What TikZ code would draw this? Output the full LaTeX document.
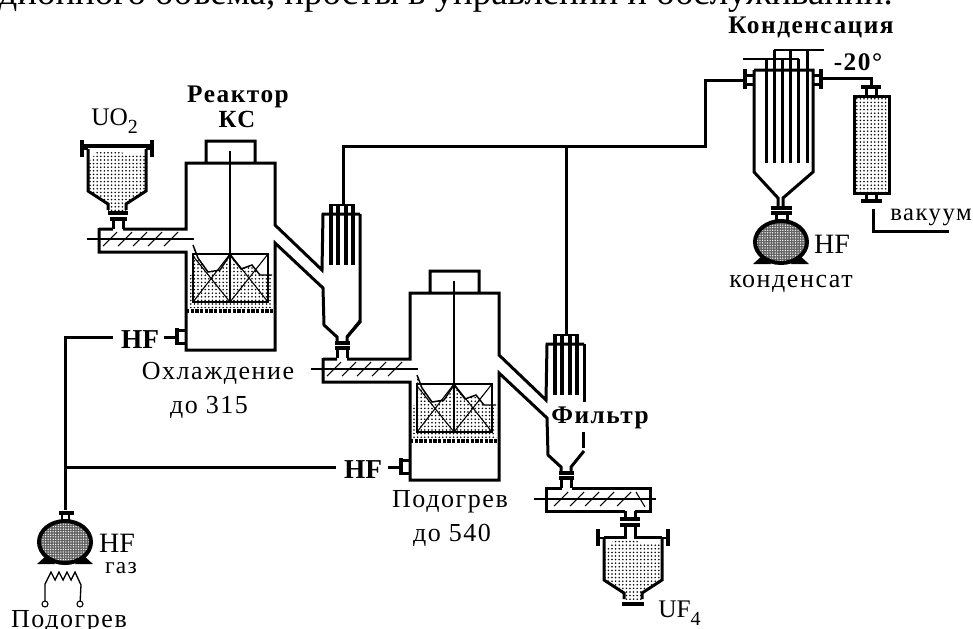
\documentclass[tikz,border=0pt]{standalone}
\usepackage{fontspec}
\setmainfont{Liberation Serif}
\usetikzlibrary{patterns,patterns.meta}
\newcommand{\lbl}[1]{\fontsize{#1}{#1}\selectfont\addfontfeature{LetterSpace=6}}
\newcommand{\tight}[1]{\fontsize{#1}{#1}\selectfont}
\newcommand{\lowidx}[1]{{\fontsize{15}{15}\selectfont\raisebox{-6.5pt}{#1}}}
\tikzset{
  x=0.75pt,y=-0.75pt,
  thick line/.style={draw=black,line width=2.25pt,line join=miter,line cap=butt},
  mid line/.style={draw=black,line width=1.5pt},
  thin line/.style={draw=black,line width=0.8pt},
  powder/.style={pattern={Dots[distance=2.7pt,radius=0.66pt]},pattern color=black},
  lab/.style={inner sep=0pt,font=\lbl{19.5}},
  blab/.style={inner sep=0pt,font=\lbl{19}\bfseries},
  plain/.style={inner sep=0pt,font=\tight{21}},
  bplain/.style={inner sep=0pt,font=\tight{20.5}\bfseries},
  % hopper, origin at centre of its top bar
  hopper/.pic={
    \path[powder] (-29,17) -- (-20,6) -- (-10,4) -- (0,5) -- (10,8) -- (28,9) -- (28,45) -- (9,58) -- (9,65) -- (-9,65) -- (-9,58) -- (-29,45) -- cycle;
    \draw[thick line] (-29,3) -- (-29,45) -- (-9,58) -- (-9,64);
    \draw[thick line] (29,3) -- (29,45) -- (9,58) -- (9,64);
    \draw[line width=3pt] (-35,-6) -- (-35,11);
    \draw[line width=3pt] (35,-6) -- (35,11);
    \draw[mid line] (-29,3) -- (-35,3);
    \draw[mid line] (29,3) -- (35,3);
  },
  % storage vessel, origin at its centre
  vessel/.pic={
    \fill[black!62] (0,0) ellipse[x radius=26,y radius=21];
    \path[pattern={Dots[distance=1.9pt,radius=0.55pt]},pattern color=white] (0,0) ellipse[x radius=26,y radius=21];
    \draw[line width=3pt] (0,0) ellipse[x radius=26,y radius=21];
    \fill (-28,22) -- (-18,13) -- (-10,22) -- cycle;
    \fill (28,22) -- (18,13) -- (10,22) -- cycle;
  },
  % reactor + screw feeder + filter, origin at reactor's top left corner
  unit/.pic={
    \path[powder] (7,82) -- (12,95) -- (22,109) -- (34,107) -- (44,92) -- (55,106) -- (66,102) -- (74,112) -- (86,112) -- (86,145) -- (3,145) -- (3,112) -- (7,112) -- cycle;
    \draw[thin line,line width=1.1pt] (7,82) -- (12,95) -- (22,109) -- (34,107) -- (44,92) -- (55,106) -- (66,102) -- (74,112) -- (86,112);
    \draw[thin line] (7,91) rectangle (82,139);
    \draw[thin line] (7,93) -- (44,139) -- (82,91);
    \draw[thin line] (7,139) -- (44,91) -- (82,139);
    \draw[thin line,line width=1pt] (44,-12) -- (44,139);
    \draw[thick line] (-87,66) -- (-73,66) (-63,66) -- (0,66) -- (0,0) -- (20,0) -- (20,-22) -- (69,-22) -- (69,0) -- (20,0) (69,0) -- (89,0) -- (89,62) -- (136,107) -- (137,51) -- (174,51);
    \draw[thick line] (-87,65) -- (-87,89) -- (0,89) -- (0,187) -- (89,187) -- (89,80) -- (137,125) -- (138,162) -- (151,174) -- (151,180);
    \draw[thick line] (161,180) -- (161,174) -- (174,158);
    \draw[line width=2.5pt] (149,180) -- (164,180) (149,185) -- (164,185);
    \draw[thick line] (151,185) -- (151,195) (161,185) -- (161,195);
    \draw[line width=3pt,dash pattern=on 2.5pt off 1pt] (0,148) -- (89,148);
    % filter tubes
    \draw[line width=3.4pt] (145,42) -- (145,102) (152,42) -- (152,102) (160,42) -- (160,102) (167,42) -- (167,102);
    \draw[mid line] (143,42) -- (169,42);
    % screw
    \draw[thin line] (-99,76) -- (8,76);
    \foreach \sx in {-83,-68,-53,-38,-22}
      \draw[thin line] (\sx,83) -- (\sx+14,69);
    % HF nozzle
    \draw[thick line] (0,167) -- (-9,167) (0,180) -- (-9,180);
    \draw[line width=3pt] (-9,165) -- (-9,182);
    \draw[thick line] (-9,174) -- (-22,174);
  }
}
\begin{document}
\begin{tikzpicture}
\useasboundingbox (0,0) rectangle (973,628);
\begin{scope}
\clip (0,0) rectangle (973,628);
\node[anchor=base east,inner sep=0pt,font=\fontsize{27.6}{27.6}\selectfont] (head) at (893,4) {дионного объема, просты в управлении и обслуживании.};
\node[lab,anchor=base] (podl) at (69,627) {Подогрев};
\end{scope}

% reactor units
\pic at (186,163) {unit};
\pic at (410,293) {unit};
\draw[thick line] (360,214) -- (360,322) -- (347,337);
\draw[thick line] (584,344) -- (584,402);
\draw[thick line] (583,432) -- (583,448);

% first hopper and feed neck
\pic at (117,146) {hopper};
\draw[line width=2.5pt] (83,146) -- (152,146);
\draw[line width=2.5pt] (108,213) -- (128,213) (110,219) -- (127,219);
\draw[thick line] (113,219) -- (113,229) (123,219) -- (123,229);

% last screw feeder and hopper
\draw[thick line] (562,488) -- (546,488) -- (546,511) -- (625,511) (635,511) -- (650,511) -- (650,488) -- (572,488);
\draw[thin line] (534,499) -- (656,499);
\foreach \sx in {554,570,585,600,617}
  \draw[thin line] (\sx,506) -- (\sx+14,492);
\draw[thin line] (636,492) -- (645,507);
\draw[thick line] (625,511) -- (625,519) (635,511) -- (635,519);
\draw[line width=2.5pt] (620,519) -- (640,519) (620,525) -- (640,525);
\draw[thick line] (625,525) -- (625,537) -- (604,537) (635,525) -- (635,537) -- (662,537);
\pic at (633,535) {hopper};
\draw[line width=3pt] (622,604) -- (644,604);

% overhead gas line
\coordinate (f1) at (343,205);
\coordinate (f2) at (566,335);
\coordinate (cin) at (745,80);
\coordinate (cout) at (823,78);
\draw[thick line] (f1) -- (343,146) -- (566,146) -- (705,146) -- (705,80) -- (cin);
\draw[thick line] (566,146) -- (f2);

% condenser
\draw[thick line] (754,70) -- (813,70) -- (813,172) -- (783,198) -- (783,208) (754,70) -- (754,172) -- (778,198) -- (778,208);
\draw[line width=3pt] (745,69) -- (745,89) (821,69) -- (821,89);
\draw[thick line] (745,75) -- (754,75) (813,75) -- (821,75) (745,84) -- (754,84) (813,84) -- (821,84);
\draw[thick line] (766,59) -- (766,163) (782,59) -- (782,163) (798,59) -- (798,163);
\draw[thick line] (774,50) -- (774,163) (790,50) -- (790,163) (807,50) -- (807,163);
\draw[mid line,line width=2pt] (743,59) -- (799,59) (774,50) -- (824,50);
\draw[line width=2.5pt] (771,208) -- (792,208) (771,213) -- (792,213);
\draw[thick line] (776,213) -- (776,222) (787,213) -- (787,222);
\pic at (781,242) {vessel};

% line to column, column
\coordinate (ctop) at (871,86);
\draw[thick line] (cout) -- (871,78) -- (ctop);
\draw[line width=2.5pt] (861,87) -- (881,87);
\draw[thick line] (866,87) -- (866,96) (876,87) -- (876,96);
\path[powder] (855,98) rectangle (888,192);
\draw[thick line] (854,96) rectangle (889,193);
\draw[thick line] (866,193) -- (866,201) (876,193) -- (876,201);
\draw[line width=2.5pt] (861,201) -- (882,201);
\coordinate (vacst) at (873,209);
\coordinate (vacend) at (949,231);
\draw[thick line] (vacst) -- (873,231) -- (vacend);

% HF supply
\pic at (65,542) {vessel};
\draw[line width=3pt] (59,513) -- (74,513);
\draw[mid line] (62,513) -- (62,521) (69,513) -- (69,521);
\coordinate (hfa) at (113,337);
\coordinate (hfb) at (336,467);
\coordinate (hfo) at (65,510);
\draw[thick line] (hfo) -- (65,337) -- (hfa);
\draw[thick line] (65,467) -- (hfb);
\coordinate (t1) at (45,604);
\coordinate (t2) at (80,604);
\draw[thin line,line width=1pt] (t1) -- (45,584) -- (48,578) -- (51,572) -- (55,580) -- (59,572) -- (63,580) -- (67,572) -- (71,580) -- (75,572) -- (81,585) -- (t2);
\draw[thin line,fill=white] (t1) circle[radius=3] (t2) circle[radius=3];

% texts
\node[plain,anchor=base west,font=\tight{19}] (uo2) at (91,125) {UO\lowidx{2}};
\node[blab,anchor=base] (rtitle) at (238,102) {Реактор};
\node[blab,anchor=base,font=\lbl{18.5}\bfseries] (ks) at (237,127) {КС};
\node[blab,anchor=base] (ctitle) at (811,33) {Конденсация};
\node[blab,anchor=base] (m20) at (858,70) {-20°};
\node[lab,anchor=base,font=\lbl{18.5}] (vac) at (931,220) {вакуум};
\node[plain,anchor=base] (hfc) at (832,253) {HF};
\node[lab,anchor=base] (cond) at (791,287) {конденсат};
\node[bplain,anchor=base] (hf1) at (140,348) {HF};
\node[bplain,anchor=base] (hf2) at (363,478) {HF};
\node[lab,anchor=base] (okh) at (218,379) {Охлаждение};
\node[lab,anchor=base] (do1) at (209,413) {до 315};
\node[lab,anchor=base] (pod) at (450,507) {Подогрев};
\node[lab,anchor=base] (do2) at (452,541) {до 540};
\node[blab,anchor=base] (filt) at (600,423) {Фильтр};
\node[plain,anchor=base west,font=\tight{19}] (uf4) at (658,617) {UF\lowidx{4}};
\node[plain,anchor=base] (hfg) at (117,552) {HF};
\node[lab,anchor=base,font=\lbl{17.5}] (gas) at (121,573) {газ};
\end{tikzpicture}
\end{document}
